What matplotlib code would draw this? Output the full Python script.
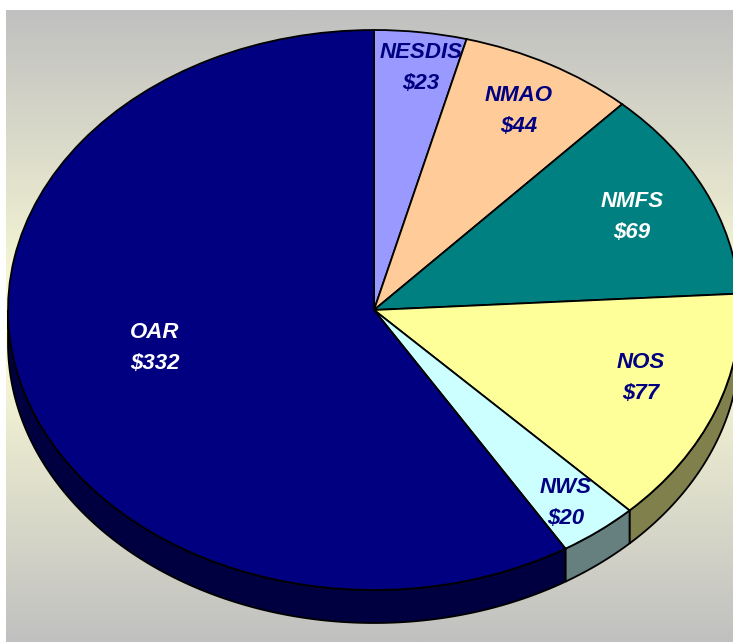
import numpy as np
import matplotlib
matplotlib.use("Agg")
import matplotlib.pyplot as plt
from matplotlib.colors import LinearSegmentedColormap

labels = ["NESDIS", "NMAO", "NMFS", "NOS", "NWS", "OAR"]
values = [23, 44, 69, 77, 20, 332]
top_colors = ["#9999FF", "#FFCC99", "#008080", "#FFFF99", "#CCFFFF", "#000080"]
side_colors = ["#4C4C80", "#80664C", "#004040", "#80804C", "#668080", "#000040"]
text_colors = ["#000080", "#000080", "#FFFFFF", "#000080", "#000080", "#FFFFFF"]
label_px = [(421, 68), (519, 111), (632, 217), (641, 378), (566, 503), (155, 348)]

W, H = 733, 642
CX, CY, RX, RY, DEPTH = 374, 310, 366, 280, 33

fig = plt.figure(figsize=(W / 100, H / 100), dpi=100, facecolor="white")

# gradient background
bg = fig.add_axes([6 / W, 0, (W - 6) / W, (H - 10) / H])
cmap = LinearSegmentedColormap.from_list(
    "bg", [(0, "#C0C0C0"), (0.5, "#FFFFD8"), (1, "#C0C0C0")])
bg.imshow(np.linspace(0, 1, 256)[:, None], cmap=cmap, aspect="auto")
bg.axis("off")

# pie axes: data units are pie radii, stretched to an ellipse
ax = fig.add_axes([0, 0, 1, 1], facecolor="none")
ax.set_xlim(-CX / RX, (W - CX) / RX)
ax.set_ylim(-(H - CY) / RY, CY / RY)
ax.axis("off")

fractions = np.array(values) / sum(values)
edges = np.concatenate([[0], np.cumsum(fractions)]) * 2 * np.pi  # clockwise from top
d = DEPTH / RY

# side wall, only where the rim faces the viewer
for i in range(len(values)):
    a0, a1 = max(edges[i], np.pi / 2), min(edges[i + 1], 3 * np.pi / 2)
    if a1 <= a0:
        continue
    t = np.linspace(a0, a1, 200)
    x, y = np.sin(t), np.cos(t)
    ax.fill(np.r_[x, x[::-1]], np.r_[y, y[::-1] - d],
            facecolor=side_colors[i], edgecolor="black", linewidth=1.3, zorder=1)

wedges, _ = ax.pie(values, colors=top_colors, startangle=90, counterclock=False,
                   radius=1, center=(0, 0), frame=True,
                   wedgeprops=dict(edgecolor="black", linewidth=1.3, zorder=2))
ax.set_aspect("auto")
ax.set_xlim(-CX / RX, (W - CX) / RX)
ax.set_ylim(-(H - CY) / RY, CY / RY)
ax.axis("off")

for name, val, col, (px, py) in zip(labels, values, text_colors, label_px):
    fig.text(px / W, 1 - py / H, f"{name}\n${val}", color=col, ha="center", va="center",
             family="Liberation Sans", fontsize=16, style="italic", weight="bold",
             linespacing=1.59, zorder=5)

fig.savefig("out.png", dpi=100)
